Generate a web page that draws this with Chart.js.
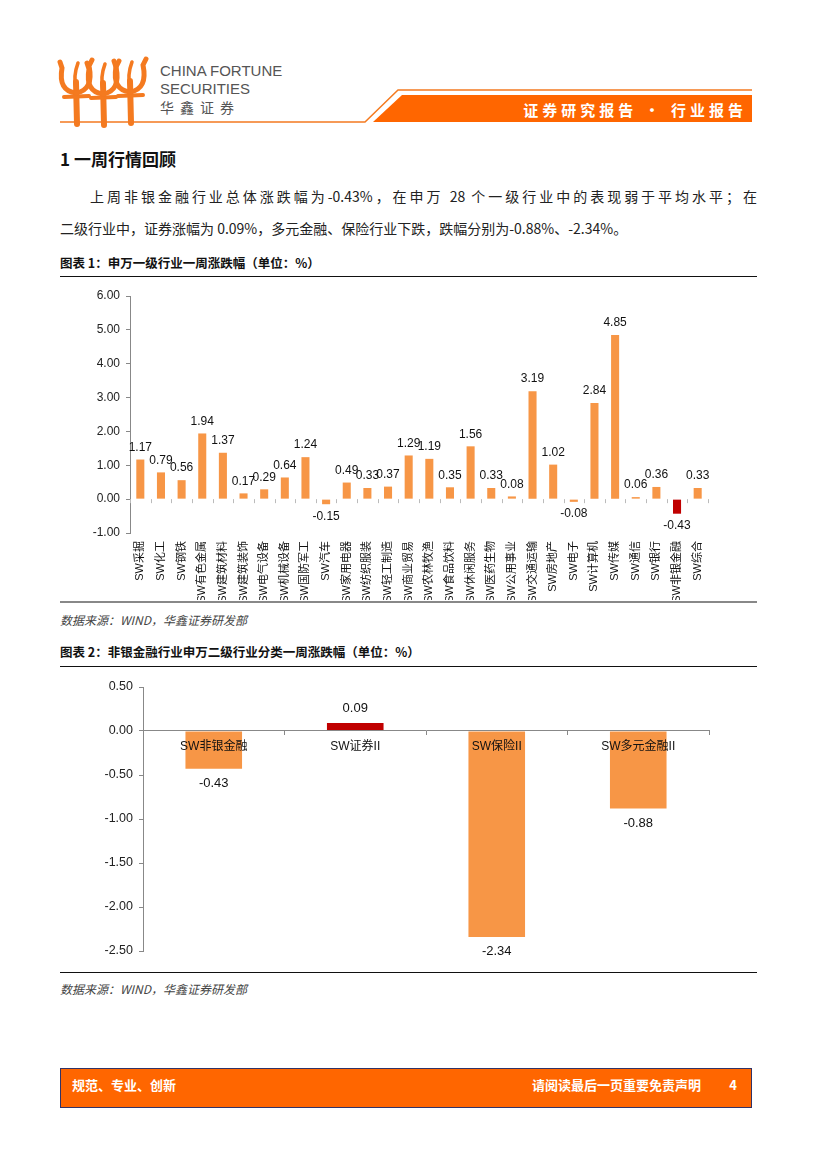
<!DOCTYPE html>
<html>
<head>
<meta charset="utf-8">
<script src="https://cdn.jsdelivr.net/npm/chart.js@4.4.0/dist/chart.umd.min.js"></script>
<style>
  html, body { margin: 0; padding: 0; background: #fff; }
  body { width: 827px; height: 1169px; position: relative; overflow: hidden;
         font-family: "Noto Sans CJK SC", "Liberation Sans", sans-serif; color: #222; }
  .abs { position: absolute; }
  .brand { left: 160px; font-family: "Liberation Sans", "Noto Sans CJK SC", sans-serif; color: #555; font-size: 15px; line-height: 18px; }
  .band-text { right: 80px; top: 100px; color: #fff; font-weight: bold; font-size: 15px; letter-spacing: 4px; line-height: 20px; }
  .h1 { left: 60px; top: 146px; font-size: 17px; font-weight: bold; color: #111; }
  .para { left: 60px; width: 697px; font-size: 14px; line-height: 20px; color: #222; }
  .cap { left: 60px; font-size: 12.5px; font-weight: bold; color: #111; }
  .rule { left: 60px; width: 697px; height: 0; border-top: 1px solid #111; }
  .src { left: 60px; font-size: 12px; font-style: italic; color: #444; }
  .chart { position: absolute; left: 60px; width: 700px; }
  .footer { left: 60px; top: 1068px; width: 690px; height: 38px; background: #FF6600; border: 1px solid #333366; }
  .footer span { position: absolute; top: 6px; color: #fff; font-weight: bold; font-size: 13px; }
</style>
</head>
<body>

<!-- header -->
<svg class="abs" style="left:0;top:0" width="827" height="130">
  <g stroke="#F47A20" fill="none" stroke-linecap="round">
    <g id="fig">
      <path d="M76 82 L77 124" stroke-width="6"/>
      <path d="M64 97 L89 96" stroke-width="4"/>
      <path d="M76 93 Q58 91 62 68 L60 62" stroke-width="5"/>
      <path d="M76 93 Q94 90 89 66 L92 60" stroke-width="5"/>
      <path d="M76 89 Q73 76 78 63" stroke-width="3.5"/>
    </g>
    <use href="#fig" x="27" y="1"/>
    <use href="#fig" x="54" y="-1"/>
  </g>
  <path d="M60 122 L365 122 L398 90 L752 90" stroke="#F47A20" stroke-width="1.5" fill="none"/>
  <polygon points="373,122 402,95 752,95 752,122" fill="#FF6600"/>
</svg>
<div class="abs brand" style="top:62px">CHINA FORTUNE</div>
<div class="abs brand" style="top:80px">SECURITIES</div>
<div class="abs brand" style="top:99px;letter-spacing:6px;font-size:14px">华鑫证券</div>
<div class="abs band-text">证券研究报告 • 行业报告</div>

<div class="abs h1">1 一周行情回顾</div>
<div class="abs para" style="top:186px;padding-left:30px;width:667px;text-align:justify;text-align-last:justify">上周非银金融行业总体涨跌幅为-0.43%，在申万 28 个一级行业中的表现弱于平均水平；在</div>
<div class="abs para" style="top:218px">二级行业中，证券涨幅为 0.09%，多元金融、保险行业下跌，跌幅分别为-0.88%、-2.34%。</div>

<div class="abs cap" style="top:253px">图表 1：申万一级行业一周涨跌幅（单位：%）</div>
<div class="abs rule" style="top:276px"></div>
<div class="chart" style="top:280px;height:320px"><canvas id="industryChart"></canvas></div>
<div class="abs" style="left:60px;top:601px;width:697px;border-top:2px solid #888"></div>
<div class="abs src" style="top:611px">数据来源：WIND，华鑫证券研发部</div>

<div class="abs cap" style="top:642px">图表 2：非银金融行业申万二级行业分类一周涨跌幅（单位：%）</div>
<div class="abs rule" style="top:666px"></div>
<div class="chart" style="top:670px;height:300px"><canvas id="subChart"></canvas></div>
<div class="abs rule" style="top:972px"></div>
<div class="abs src" style="top:980px">数据来源：WIND，华鑫证券研发部</div>

<div class="abs footer">
  <span style="left:11px">规范、专业、创新</span>
  <span style="right:50px">请阅读最后一页重要免责声明</span>
  <span style="right:14px">4</span>
</div>

<script>
// 申万一级行业 一周涨跌幅 (%)
const industries = ['SW采掘', 'SW化工', 'SW钢铁', 'SW有色金属', 'SW建筑材料', 'SW建筑装饰', 'SW电气设备',
  'SW机械设备', 'SW国防军工', 'SW汽车', 'SW家用电器', 'SW纺织服装', 'SW轻工制造', 'SW商业贸易',
  'SW农林牧渔', 'SW食品饮料', 'SW休闲服务', 'SW医药生物', 'SW公用事业', 'SW交通运输', 'SW房地产',
  'SW电子', 'SW计算机', 'SW传媒', 'SW通信', 'SW银行', 'SW非银金融', 'SW综合'];
const industryChange = [1.17, 0.79, 0.56, 1.94, 1.37, 0.17, 0.29, 0.64, 1.24, -0.15, 0.49, 0.33, 0.37, 1.29,
  1.19, 0.35, 1.56, 0.33, 0.08, 3.19, 1.02, -0.08, 2.84, 4.85, 0.06, 0.36, -0.43, 0.33];
const industryHighlight = 'SW非银金融';

// 非银金融 申万二级行业 一周涨跌幅 (%)
const subIndustries = ['SW非银金融', 'SW证券II', 'SW保险II', 'SW多元金融II'];
const subChange = [-0.43, 0.09, -2.34, -0.88];
const subHighlight = 'SW证券II';

const ORANGE = '#F79646';
const RED = '#C00000';
const LATIN = '"Liberation Sans", "Noto Sans CJK SC", sans-serif';

// 数据标签：正值在柱顶上方，负值在柱底下方
const valueLabels = {
  id: 'valueLabels',
  afterDatasetsDraw(chart, args, opts) {
    const ctx = chart.ctx;
    const meta = chart.getDatasetMeta(0);
    const values = chart.data.datasets[0].data;
    ctx.save();
    ctx.font = opts.font;
    ctx.fillStyle = '#111';
    ctx.textAlign = 'center';
    ctx.textBaseline = 'middle';
    meta.data.forEach((bar, i) => {
      const v = values[i];
      const y = v >= 0 ? bar.y - opts.offset : bar.y + opts.offset;
      ctx.fillText(v.toFixed(2), bar.x, y);
    });
    ctx.restore();
  }
};

// 图表1：零轴上各类别之间的小刻度
const zeroTicks = {
  id: 'zeroTicks',
  afterDraw(chart) {
    const x = chart.scales.x, y = chart.scales.y;
    const y0 = y.getPixelForValue(0);
    const ctx = chart.ctx;
    ctx.save();
    ctx.strokeStyle = '#bbb';
    ctx.lineWidth = 1;
    for (let i = 0; i <= industries.length; i++) {
      const px = Math.round(x.getPixelForValue(i - 0.5)) + 0.5;
      ctx.beginPath();
      ctx.moveTo(px, y0);
      ctx.lineTo(px, y0 + 4);
      ctx.stroke();
    }
    ctx.restore();
  }
};

new Chart(document.getElementById('industryChart'), {
  type: 'bar',
  data: {
    labels: industries,
    datasets: [{
      data: industryChange,
      backgroundColor: industries.map(n => n === industryHighlight ? RED : ORANGE),
      barPercentage: 0.39,
      categoryPercentage: 1.0,
    }],
  },
  options: {
    responsive: true,
    maintainAspectRatio: false,
    animation: false,
    layout: { padding: { top: 16, right: 52, left: 0, bottom: 0 } },
    plugins: {
      legend: { display: false },
      tooltip: { enabled: false },
      valueLabels: { font: '12px ' + LATIN, offset: 12 },
    },
    scales: {
      x: {
        grid: { display: false },
        border: { display: false },
        ticks: {
          autoSkip: false, minRotation: 90, maxRotation: 90, padding: 0,
          color: '#111', font: { size: 11, family: LATIN },
        },
        afterFit: (s) => { s.height = 67; },
      },
      y: {
        min: -1, max: 6,
        grid: { drawOnChartArea: false, tickLength: 4, color: '#888' },
        border: { color: '#888' },
        ticks: {
          stepSize: 1, padding: 6, color: '#222', font: { size: 12, family: LATIN },
          callback: (v) => v.toFixed(2),
        },
        afterFit: (s) => { s.width = 70; },
      },
    },
  },
  plugins: [valueLabels, zeroTicks],
});

new Chart(document.getElementById('subChart'), {
  type: 'bar',
  data: {
    labels: subIndustries,
    datasets: [{
      data: subChange,
      backgroundColor: subIndustries.map(n => n === subHighlight ? RED : ORANGE),
      barPercentage: 0.40,
      categoryPercentage: 1.0,
    }],
  },
  options: {
    responsive: true,
    maintainAspectRatio: false,
    animation: false,
    layout: { padding: { top: 17, right: 51, left: 0, bottom: 19 } },
    plugins: {
      legend: { display: false },
      tooltip: { enabled: false },
      valueLabels: { font: '13px ' + LATIN, offset: 15 },
    },
    scales: {
      x: {
        position: { y: 0 },
        grid: { drawOnChartArea: false, tickLength: 4, color: '#888', offset: true, z: 1 },
        border: { color: '#888', z: 1 },
        ticks: { z: 1, padding: 4, color: '#111', font: { size: 12, family: LATIN } },
      },
      y: {
        min: -2.5, max: 0.5,
        grid: { drawOnChartArea: false, tickLength: 4, color: '#888' },
        border: { color: '#888' },
        ticks: {
          stepSize: 0.5, padding: 6, color: '#222', font: { size: 12.5, family: LATIN },
          callback: (v) => v.toFixed(2),
        },
        afterFit: (s) => { s.width = 83; },
      },
    },
  },
  plugins: [valueLabels],
});
</script>
</body>
</html>
